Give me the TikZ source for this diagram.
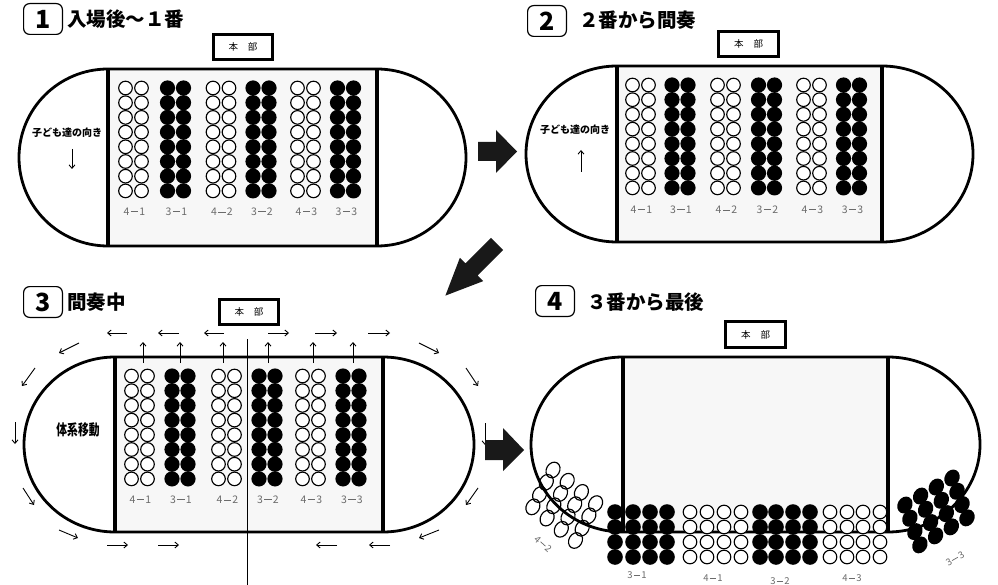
\documentclass[tikz,border=0pt]{standalone}
\usepackage{fontspec}
\setmainfont{Noto Sans CJK JP}
\usetikzlibrary{arrows.meta}
\newcommand{\dsh}{\hspace{0.12em}\rule[0.33em]{0.7em}{0.075em}\hspace{0.12em}}
\newcommand{\stadium}[5]{%
  \fill[fieldc] (#1,#3) rectangle (#2,#4);
  \draw[track] (#1,#3) -- (#2,#3) arc[start angle=-90,end angle=90,x radius=#5,y radius={(#4-#3)/2}]
     -- (#1,#4) arc[start angle=90,end angle=270,x radius=#5,y radius={(#4-#3)/2}] -- cycle;
  \draw[sidel] (#1,#3) -- (#1,#4) (#2,#3) -- (#2,#4);
}
\newcommand{\drawpairs}[4]{%
  \foreach \cx/\t/\la/\lb [count=\i] in {#1} {
    \foreach \r in {0,...,7} {
      \ifnum\t=0
        \draw[opn] (\cx-8,#2+\r*14.7) circle[radius=6.8] (\cx+8,#2+\r*14.7) circle[radius=6.8];
      \else
        \fill (\cx-8,#2+\r*14.7) circle[radius=7.6] (\cx+8,#2+\r*14.7) circle[radius=7.6];
      \fi
    }
    \node[grp] (g#4\i) at (\cx+1,#3) {\la\dsh\lb};
  }
}
\begin{document}
\begin{tikzpicture}[x=1pt,y=-1pt,
  track/.style={line width=2.8pt,line join=round},
  sidel/.style={line width=3.4pt},
  fieldc/.style={fill=black!3},
  opn/.style={draw,line width=1.15pt,fill=white},
  hq/.style={draw,line width=2.6pt,minimum width=59.5pt,minimum height=25.5pt,inner sep=0pt,font=\fontsize{9.5}{9.5}\selectfont},
  numbox/.style={draw,rounded corners=6pt,line width=1.2pt,minimum width=38.8pt,minimum height=30.8pt,inner sep=0pt,font=\bfseries\fontsize{25}{25}\selectfont},
  ttl/.style={anchor=west,inner sep=0pt,font=\bfseries\fontsize{19.5}{19.5}\selectfont},
  grp/.style={text=black!58,inner sep=0pt,font=\fontsize{10.5}{10.5}\selectfont},
  dir/.style={inner sep=0pt,font=\bfseries\fontsize{10}{10}\selectfont},
  thin/.style={line width=0.9pt,-{Straight Barb[length=3.5pt,width=6pt]}},
  big/.style={fill=black!90}
]
\useasboundingbox (0,0) rectangle (998,585);
\fill[white] (0,0) rectangle (998,585);

% ---------- Panel 1 ----------
\node[numbox] (n1) at (43,19) {1};
\node[ttl] (t1) at (67,19) {入場後～１番};
\node[hq] (hq1) at (243,47) {本\hspace{10pt}部};
\stadium{108}{377}{69}{246}{89}
\drawpairs{133.5/0/4/1,175.5/1/3/1,221/0/4/2,261/1/3/2,305.5/0/4/3,345.5/1/3/3}{88}{212}{a}
\node[dir] (d1) at (67,133) {子ども達の向き};
\coordinate (d1e) at (72,169);
\draw[thin] (72,149) -- (d1e);

% ---------- Panel 2 ----------
\node[numbox] (n2) at (547,21) {2};
\node[ttl] (t2) at (579,20) {２番から間奏};
\node[hq] (hq2) at (748.5,44) {本\hspace{10pt}部};
\stadium{617}{882}{66}{242}{91}
\drawpairs{640.5/0/4/1,680/1/3/1,725.5/0/4/2,766.5/1/3/2,811.5/0/4/3,851.5/1/3/3}{85}{210}{b}
\node[dir] (d2) at (575,130) {子ども達の向き};
\coordinate (d2e) at (581,150);
\draw[thin] (581,172) -- (d2e);

% ---------- Panel 3 ----------
\node[numbox] (n3) at (43,302) {3};
\node[ttl] (t3) at (67,302) {間奏中};
\node[hq] (hq3) at (249,312) {本\hspace{10pt}部};
\stadium{115}{383}{357}{532}{91}
\drawpairs{139.5/0/4/1,180/1/3/1,226.5/0/4/2,267/1/3/2,310.5/0/4/3,351/1/3/3}{376}{500}{c}
\draw[line width=0.9pt] (247,339) -- (247,585);
\node[dir,font=\bfseries\fontsize{15}{15}\selectfont,xscale=0.72] (d3) at (78,430) {体系移動};
\foreach \x in {143,180,223,268,313,353} \draw[thin] (\x,363) -- (\x,342);
\foreach \a/\b/\c/\d in {127/333/107/333, 179/333/158/333, 224/333/204/333,
  268/333/289/333, 315/333/337/333, 368/333/390/333,
  79/343/59/353, 35/368/22/386, 15/422/15/444, 23/488/34/505, 59/530/78/538,
  107/545/128/545, 158/545/179/545, 337/545/316/545, 390/545/369/545,
  439/530/419/538, 478/488/466/505, 485/423/485/445, 466/368/478/386, 419/343/439/353}
  \draw[thin] (\a,\b) -- (\c,\d);

% ---------- Panel 4 ----------
\node[numbox] (n4) at (555,301) {4};
\node[ttl] (t4) at (587,302) {３番から最後};
\node[hq] (hq4) at (755.5,334.5) {本\hspace{10pt}部};
\stadium{623}{888}{357}{532}{92}
\foreach \y in {512,527,542,557} {
  \foreach \x in {615,633,650,667, 760,776,793,810} \fill (\x,\y) circle[radius=7.8];
  \foreach \x in {690,707,724,741, 830,847,863,880} \draw[opn] (\x,\y) circle[radius=6.8];
}
\foreach \i in {0,...,3} \foreach \j in {0,...,3}
  \draw[line width=1.15pt,rotate around={-30:(553+14.2*\j-6.7*\i,470+11.2*\j+12.3*\i)}]
    (553+14.2*\j-6.7*\i,470+11.2*\j+12.3*\i) ellipse[x radius=6.6,y radius=8.2];
\foreach \i in {0,...,3} \foreach \j in {0,...,3}
  \fill[rotate around={-30:(952+5*\j-15.7*\i,478+13.3*\j+9*\i)}]
    (952+5*\j-15.7*\i,478+13.3*\j+9*\i) ellipse[x radius=7.3,y radius=8.8];
\node[grp,font=\fontsize{9.5}{9.5}\selectfont] (g31) at (637,575) {3\dsh1};
\node[grp,font=\fontsize{9.5}{9.5}\selectfont] (g41) at (713,578) {4\dsh1};
\node[grp,font=\fontsize{9.5}{9.5}\selectfont] (g32) at (780,581) {3\dsh2};
\node[grp,font=\fontsize{9.5}{9.5}\selectfont] (g43) at (852,578) {4\dsh3};
\node[grp,font=\fontsize{9.5}{9.5}\selectfont,rotate=-42] (g42) at (543,544) {4\dsh2};
\node[grp,font=\fontsize{9.5}{9.5}\selectfont,rotate=30] (g33) at (955,559) {3\dsh3};

% ---------- big arrows ----------
\fill[big] (478,142) -- (496,142) -- (496,130) -- (517,151.5) -- (496,173) -- (496,161) -- (478,161) -- cycle;
\fill[big] (485,440) -- (503,440) -- (503,428) -- (524,450) -- (503,471) -- (503,460) -- (485,460) -- cycle;
\begin{scope}[shift={(497,244)},rotate=-135]
\fill[big] (0,-8.5) -- (36,-8.5) -- (36,-16.5) -- (73,0) -- (36,16.5) -- (36,8.5) -- (0,8.5) -- cycle;
\end{scope}
\end{tikzpicture}
\end{document}
